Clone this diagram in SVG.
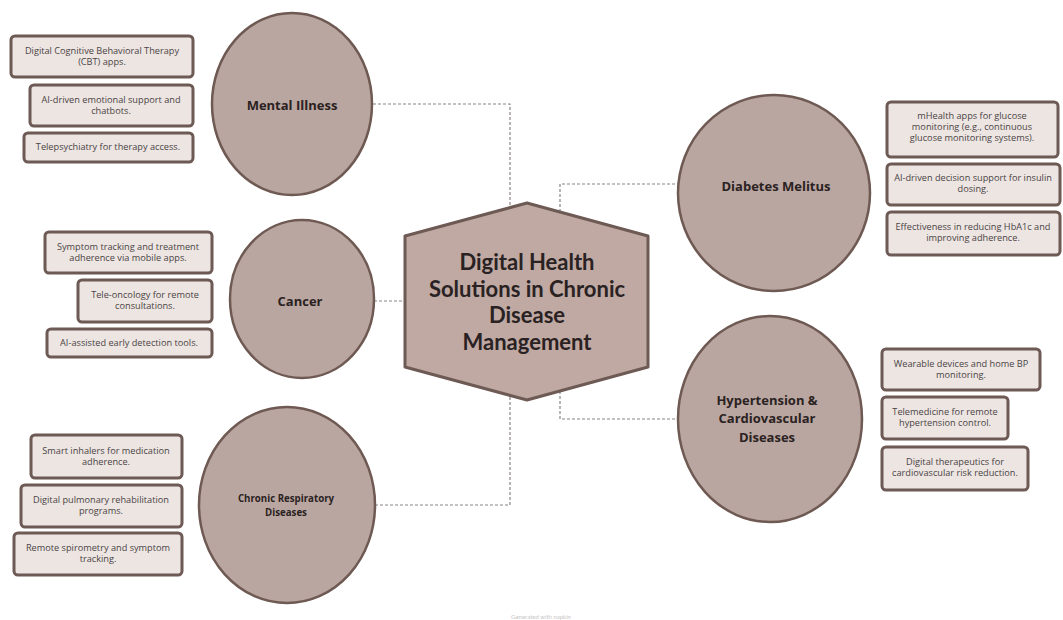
<svg xmlns="http://www.w3.org/2000/svg" width="1063" height="620" viewBox="0 0 1063 620">
  <style>
    .bg { fill: #ffffff; }
    .circle { fill: #baa6a0; stroke: #6e5953; stroke-width: 2.5; }
    .hub { fill: #bfa9a2; stroke: #6e5a55; stroke-width: 3; stroke-linejoin: round; }
    .box { fill: #ede5e2; stroke: #6d5a55; stroke-width: 3; }
    .link { fill: none; stroke: #8a8583; stroke-width: 1.2; stroke-dasharray: 3 2; }
    .title { font-family: Lato, "Open Sans", "Liberation Sans", sans-serif; font-weight: 700; font-size: 22px; fill: #2a2222; text-anchor: middle; }
    .label { font-family: "Open Sans", Lato, "Liberation Sans", sans-serif; font-weight: 700; font-size: 13px; fill: #2a2222; text-anchor: middle; }
    .label-sm { font-family: "Open Sans", Lato, "Liberation Sans", sans-serif; font-weight: 700; font-size: 9.7px; fill: #2a2222; text-anchor: middle; }
    .item { font-family: "Open Sans", Lato, "Liberation Sans", sans-serif; font-size: 9.2px; fill: #4a4444; text-anchor: middle; }
    .mark { font-family: Lato, "Liberation Sans", sans-serif; font-size: 6px; fill: #c9c6c6; text-anchor: middle; }
  </style>

  <rect class="bg" x="0" y="0" width="1063" height="620"/>

  <!-- dashed elbow connectors from the hub to each disease -->
  <g id="connectors">
    <path class="link" d="M373,104 H510 V207"/>
    <path class="link" d="M374,301 H405"/>
    <path class="link" d="M375,505 H510 V396"/>
    <path class="link" d="M560,212 V184 H678"/>
    <path class="link" d="M560,391 V419 H678"/>
  </g>

  <!-- central hub -->
  <g id="hub">
    <polygon class="hub" points="527,203 648,236 648,367 527,400 405,367 405,236"/>
    <text class="title" x="527" y="270">Digital Health</text>
    <text class="title" x="527" y="297">Solutions in Chronic</text>
    <text class="title" x="527" y="323">Disease</text>
    <text class="title" x="527" y="350">Management</text>
  </g>

  <!-- Mental illness -->
  <g id="mental-illness">
    <ellipse class="circle" cx="292" cy="104" rx="80" ry="91"/>
    <text class="label" x="292" y="110">Mental Illness</text>
  </g>
  <g id="mental-items">
    <rect class="box" x="11" y="36" width="182" height="41" rx="4"/>
    <text class="item" x="102" y="54">Digital Cognitive Behavioral Therapy</text>
    <text class="item" x="102" y="65">(CBT) apps.</text>
    <rect class="box" x="30" y="85" width="163" height="41" rx="4"/>
    <text class="item" x="111" y="103">AI-driven emotional support and</text>
    <text class="item" x="111" y="114">chatbots.</text>
    <rect class="box" x="24" y="133" width="169" height="29" rx="4"/>
    <text class="item" x="108" y="150">Telepsychiatry for therapy access.</text>
  </g>

  <!-- Cancer -->
  <g id="cancer">
    <ellipse class="circle" cx="302" cy="299" rx="72" ry="79"/>
    <text class="label" x="300" y="306">Cancer</text>
  </g>
  <g id="cancer-items">
    <rect class="box" x="45" y="232" width="167" height="41" rx="4"/>
    <text class="item" x="128" y="250">Symptom tracking and treatment</text>
    <text class="item" x="128" y="261">adherence via mobile apps.</text>
    <rect class="box" x="78" y="280" width="134" height="42" rx="4"/>
    <text class="item" x="145" y="298">Tele-oncology for remote</text>
    <text class="item" x="145" y="309">consultations.</text>
    <rect class="box" x="47" y="329" width="165" height="28" rx="4"/>
    <text class="item" x="129" y="346">AI-assisted early detection tools.</text>
  </g>

  <!-- Chronic respiratory diseases -->
  <g id="respiratory">
    <ellipse class="circle" cx="287" cy="505" rx="88" ry="98"/>
    <text class="label-sm" x="286" y="502">Chronic Respiratory</text>
    <text class="label-sm" x="286" y="516">Diseases</text>
  </g>
  <g id="respiratory-items">
    <rect class="box" x="31" y="435" width="151" height="43" rx="4"/>
    <text class="item" x="106" y="454">Smart inhalers for medication</text>
    <text class="item" x="106" y="465">adherence.</text>
    <rect class="box" x="21" y="485" width="161" height="42" rx="4"/>
    <text class="item" x="101" y="503">Digital pulmonary rehabilitation</text>
    <text class="item" x="101" y="514">programs.</text>
    <rect class="box" x="14" y="533" width="168" height="42" rx="4"/>
    <text class="item" x="98" y="551">Remote spirometry and symptom</text>
    <text class="item" x="98" y="562">tracking.</text>
  </g>

  <!-- Diabetes mellitus -->
  <g id="diabetes">
    <ellipse class="circle" cx="774" cy="193" rx="96" ry="98"/>
    <text class="label" x="776" y="191">Diabetes Melitus</text>
  </g>
  <g id="diabetes-items">
    <rect class="box" x="887" y="102" width="171" height="55" rx="4"/>
    <text class="item" x="972" y="119">mHealth apps for glucose</text>
    <text class="item" x="972" y="130">monitoring (e.g., continuous</text>
    <text class="item" x="972" y="141">glucose monitoring systems).</text>
    <rect class="box" x="887" y="164" width="173" height="41" rx="4"/>
    <text class="item" x="973" y="181">AI-driven decision support for insulin</text>
    <text class="item" x="973" y="192">dosing.</text>
    <rect class="box" x="887" y="212" width="173" height="43" rx="4"/>
    <text class="item" x="973" y="230">Effectiveness in reducing HbA1c and</text>
    <text class="item" x="973" y="241">improving adherence.</text>
  </g>

  <!-- Hypertension and cardiovascular diseases -->
  <g id="hypertension">
    <ellipse class="circle" cx="770" cy="419" rx="92" ry="103"/>
    <text class="label" x="767" y="405">Hypertension &amp;</text>
    <text class="label" x="767" y="423">Cardiovascular</text>
    <text class="label" x="767" y="442">Diseases</text>
  </g>
  <g id="hypertension-items">
    <rect class="box" x="882" y="349" width="158" height="41" rx="4"/>
    <text class="item" x="961" y="367">Wearable devices and home BP</text>
    <text class="item" x="961" y="378">monitoring.</text>
    <rect class="box" x="882" y="397" width="126" height="42" rx="4"/>
    <text class="item" x="945" y="415">Telemedicine for remote</text>
    <text class="item" x="945" y="426">hypertension control.</text>
    <rect class="box" x="882" y="447" width="146" height="43" rx="4"/>
    <text class="item" x="955" y="465">Digital therapeutics for</text>
    <text class="item" x="955" y="476">cardiovascular risk reduction.</text>
  </g>

  <text class="mark" x="541" y="619">Generated with napkin</text>
</svg>
